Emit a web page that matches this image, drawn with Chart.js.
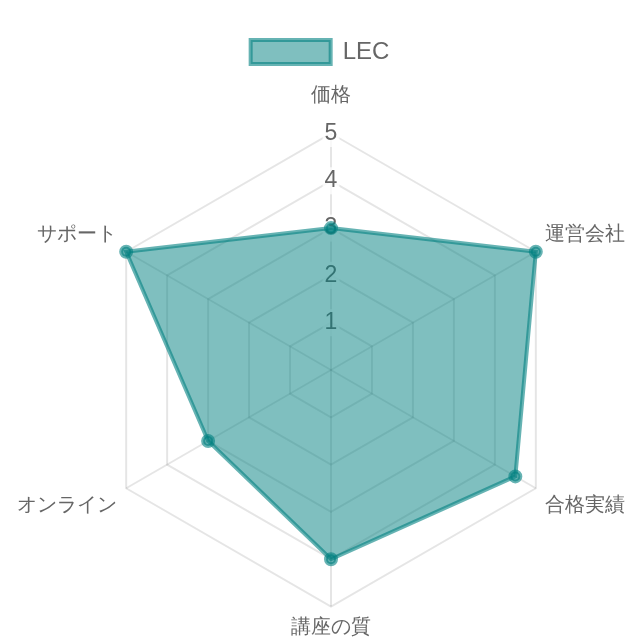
<!DOCTYPE html>
<html lang="ja">
<head>
    <meta charset="UTF-8">
    <title>LEC レーダーチャート</title>
    <script src="https://cdn.jsdelivr.net/npm/chart.js"></script>
    <style>
        html, body {
            margin: 0;
            padding: 0;
            background: #fff;
            overflow: hidden;
        }
        #wrap {
            width: 640px;
            height: 648px;
        }
    </style>
</head>
<body>
    <div id="wrap"><canvas id="radarChart"></canvas></div>

    <script>
        const categories = ['価格', '運営会社', '合格実績', '講座の質', 'オンライン', 'サポート'];
        const lecScores = [3, 5, 4.5, 4, 3, 5];
        const seriesName = 'LEC';

        // label gap per axis: top label sits higher, the rest hug the web
        const labelGaps = [13, -3, -3, -5, -3, -3];

        new Chart(document.getElementById('radarChart'), {
            type: 'radar',
            data: {
                labels: categories,
                datasets: [{
                    label: seriesName,
                    data: lecScores,
                    backgroundColor: 'rgba(0, 128, 128, 0.5)',
                    borderColor: 'rgba(0, 128, 128, 0.6)',
                    borderWidth: 4,
                    pointBackgroundColor: 'rgba(0, 128, 128, 0.6)',
                    pointBorderColor: 'rgba(0, 128, 128, 0.6)',
                    pointRadius: 5
                }]
            },
            options: {
                responsive: true,
                maintainAspectRatio: false,
                animation: false,
                layout: {
                    padding: { top: 30 }
                },
                plugins: {
                    legend: {
                        display: true,
                        position: 'top',
                        labels: {
                            font: { size: 24 },
                            boxWidth: 80,
                            color: '#666'
                        }
                    }
                },
                scales: {
                    r: {
                        min: 0,
                        max: 5,
                        grid: { lineWidth: 2, color: 'rgba(0, 0, 0, 0.1)' },
                        angleLines: { lineWidth: 2, color: 'rgba(0, 0, 0, 0.1)' },
                        ticks: {
                            stepSize: 1,
                            font: { size: 23 },
                            color: '#666'
                        },
                        pointLabels: {
                            font: { size: 20 },
                            color: '#666',
                            padding: ctx => labelGaps[ctx.index]
                        }
                    }
                }
            }
        });
    </script>
</body>
</html>
